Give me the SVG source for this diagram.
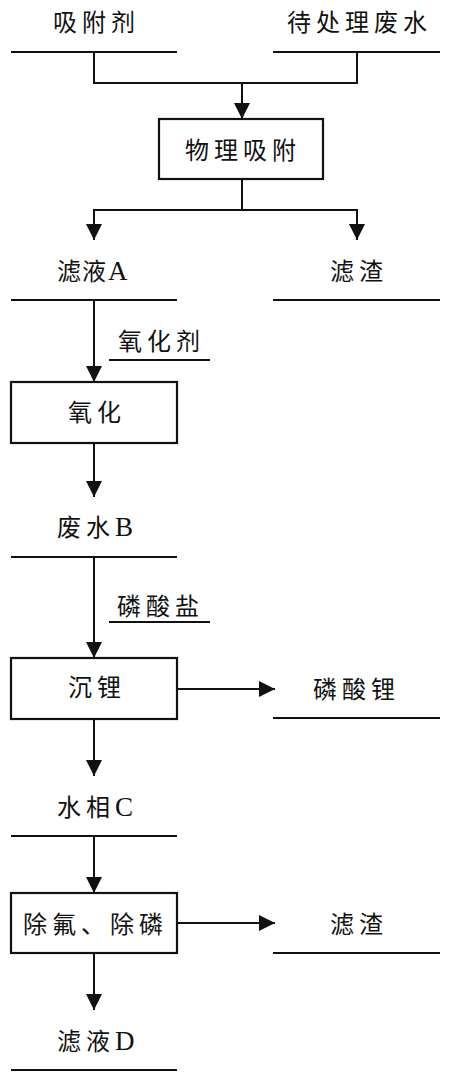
<svg xmlns="http://www.w3.org/2000/svg" width="450" height="1080" viewBox="0 0 450 1080">
<style>
text{font-family:"Liberation Serif","Noto Sans CJK SC",serif;font-size:24px;fill:#111;letter-spacing:5px}
.lat{font-size:27px;letter-spacing:0}
.tight{letter-spacing:0}
.ln{stroke:#111;stroke-width:2;fill:none}
.box{stroke:#111;stroke-width:2.2;fill:#fff}
</style>
<defs>
<marker id="ah" viewBox="0 0 16 16" refX="16" refY="8" markerWidth="16" markerHeight="16" markerUnits="userSpaceOnUse" orient="auto">
<path d="M0,0 L16,8 L0,16 z" fill="#111"/>
</marker>
</defs>
<rect width="450" height="1080" fill="#fff"/>
<g id="connectors">
<path class="ln" d="M94,52 V83 H357 V52"/>
<path class="ln" d="M242,83 V119" marker-end="url(#ah)"/>
<path class="ln" d="M242,179 V210"/>
<path class="ln" d="M94,240 V210 H357 V240" marker-end="url(#ah)"/>
<path class="ln" d="M94,210 V240" marker-end="url(#ah)"/>
<path class="ln" d="M94,300 V382" marker-end="url(#ah)"/>
<path class="ln" d="M94,443 V497" marker-end="url(#ah)"/>
<path class="ln" d="M94,557 V658" marker-end="url(#ah)"/>
<path class="ln" d="M177,689 H275" marker-end="url(#ah)"/>
<path class="ln" d="M94,719 V776" marker-end="url(#ah)"/>
<path class="ln" d="M94,836 V893" marker-end="url(#ah)"/>
<path class="ln" d="M177,923 H275" marker-end="url(#ah)"/>
<path class="ln" d="M94,953 V1010" marker-end="url(#ah)"/>
</g>
<g id="adsorbent"><text x="53" y="31">吸附剂</text><line class="ln" x1="11" y1="52" x2="177" y2="52"/></g>
<g id="wastewater"><text x="287" y="31">待处理废水</text><line class="ln" x1="273" y1="52" x2="440" y2="52"/></g>
<g id="adsorption"><rect class="box" x="159" y="119" width="164" height="60"/><text x="185" y="159">物理吸附</text></g>
<g id="filtrateA"><text class="tight" x="57 82" y="280">滤液<tspan class="lat" x="108">A</tspan></text><line class="ln" x1="11" y1="300" x2="177" y2="300"/></g>
<g id="residue1"><text x="330" y="280">滤渣</text><line class="ln" x1="273" y1="300" x2="440" y2="300"/></g>
<g id="oxidant"><text x="118" y="350">氧化剂</text><line class="ln" x1="109" y1="360" x2="210" y2="360"/></g>
<g id="oxidation"><rect class="box" x="11" y="382" width="166" height="61"/><text x="68" y="421">氧化</text></g>
<g id="wastewaterB"><text x="57" y="536">废水<tspan class="lat" x="115">B</tspan></text><line class="ln" x1="11" y1="557" x2="177" y2="557"/></g>
<g id="phosphate"><text x="117" y="615">磷酸盐</text><line class="ln" x1="109" y1="622" x2="210" y2="622"/></g>
<g id="lithiumPrecip"><rect class="box" x="11" y="658" width="166" height="61"/><text x="68" y="696">沉锂</text></g>
<g id="lithiumPhosphate"><text x="313" y="698">磷酸锂</text><line class="ln" x1="273" y1="718" x2="440" y2="718"/></g>
<g id="aqueousC"><text x="57" y="816">水相<tspan class="lat" x="115">C</tspan></text><line class="ln" x1="11" y1="836" x2="177" y2="836"/></g>
<g id="removal"><rect class="box" x="11" y="893" width="166" height="60"/><text x="23" y="933">除氟、除磷</text></g>
<g id="residue2"><text x="330" y="933">滤渣</text><line class="ln" x1="273" y1="953" x2="440" y2="953"/></g>
<g id="filtrateD"><text x="57" y="1050">滤液<tspan class="lat" x="115">D</tspan></text><line class="ln" x1="11" y1="1070" x2="177" y2="1070"/></g>
</svg>
